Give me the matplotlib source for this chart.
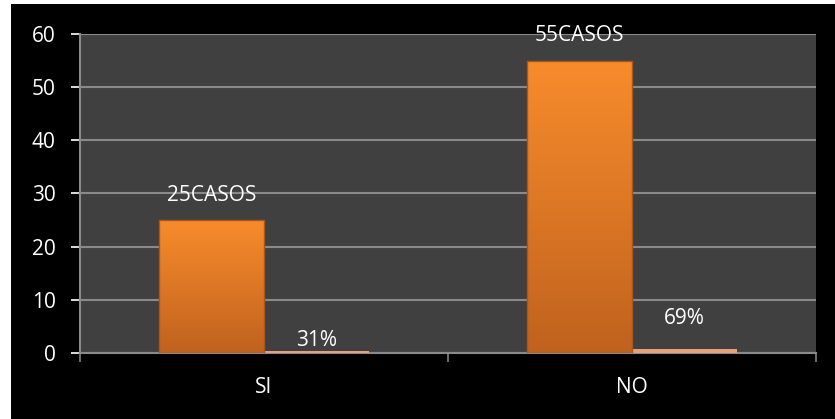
import numpy as np
import matplotlib
matplotlib.use("Agg")
import matplotlib.pyplot as plt

# datos
categorias = ["SI", "NO"]
casos = [25, 55]
porcentajes = [0.31, 0.69]
etiquetas_casos = ["25CASOS", "55CASOS"]
etiquetas_pct = ["31%", "69%"]
yticks = [0, 10, 20, 30, 40, 50, 60]

plt.rcParams['font.family'] = ['Open Sans', 'DejaVu Sans']
fs = 15

fig = plt.figure(figsize=(8.35, 4.19), dpi=100)
fig.patch.set_facecolor("white")
# fondo negro del grafico (con franja blanca arriba e izquierda)
bg = fig.add_axes([11 / 835, 0, 1 - 11 / 835, 1 - 4 / 419])
bg.set_facecolor("black")
bg.set_xticks([])
bg.set_yticks([])
for s in bg.spines.values():
    s.set_visible(False)

ax = fig.add_axes([80 / 835, 1 - 353 / 419, 736 / 835, 319 / 419])
ax.set_facecolor("#404040")

x = np.arange(len(categorias))
w = 0.285
b1 = ax.bar(x - w / 2, casos, w, color="#E8822A", zorder=3)
b2 = ax.bar(x + w / 2, porcentajes, w, color="#E8A07A", zorder=3)

# degradado naranja dentro de cada barra
grad = np.linspace(0, 1, 256).reshape(-1, 1)
cmap = matplotlib.colors.LinearSegmentedColormap.from_list("nar", ["#C0621E", "#F88C2C"])
for r in b1:
    x0, y0 = r.get_x(), r.get_y()
    im = ax.imshow(grad, extent=[x0, x0 + r.get_width(), y0, y0 + r.get_height()],
                   origin="lower", cmap=cmap, aspect="auto", zorder=4)
    im.set_clip_path(r)
    ax.add_patch(plt.Rectangle((x0, y0), r.get_width(), r.get_height(), fill=False,
                               edgecolor="#A8561A", linewidth=1.0, zorder=5))

ax.set_xlim(-0.5, 1.5)
ax.set_ylim(0, 60)
ax.set_yticks(yticks)
ax.set_xticks(x)
ax.set_xticklabels(categorias)
ax.set_xticks([-0.5, 0.5, 1.5], minor=True)
ax.tick_params(axis="x", which="major", length=0, pad=17)
ax.tick_params(axis="x", which="minor", length=6.5, color="#808080", width=1.2)
ax.tick_params(axis="y", length=6.5, color="#808080", width=1.2, pad=11)
ax.tick_params(colors="white", labelsize=fs)
ax.tick_params(axis="x", colors="#808080", which="minor")
for lab in ax.get_xticklabels() + ax.get_yticklabels():
    lab.set_color("white")

ax.yaxis.grid(True, color="#8A8A8A", linewidth=1.5, zorder=1)
ax.set_axisbelow(True)
for s in ["top", "right"]:
    ax.spines[s].set_visible(False)
for s in ["left", "bottom"]:
    ax.spines[s].set_color("#8A8A8A")
    ax.spines[s].set_linewidth(1.5)

for r, t in zip(b1, etiquetas_casos):
    ax.annotate(t, (r.get_x() + r.get_width() / 2, r.get_height()), xytext=(0, 25),
                textcoords="offset pixels", ha="center", va="center",
                color="white", fontsize=fs, zorder=6)
offs = [11, 31]
for r, t, o in zip(b2, etiquetas_pct, offs):
    ax.annotate(t, (r.get_x() + r.get_width() / 2, r.get_height()), xytext=(0, o),
                textcoords="offset pixels", ha="center", va="center",
                color="white", fontsize=fs, zorder=6)

fig.savefig("out.png", dpi=100, facecolor=fig.get_facecolor())
